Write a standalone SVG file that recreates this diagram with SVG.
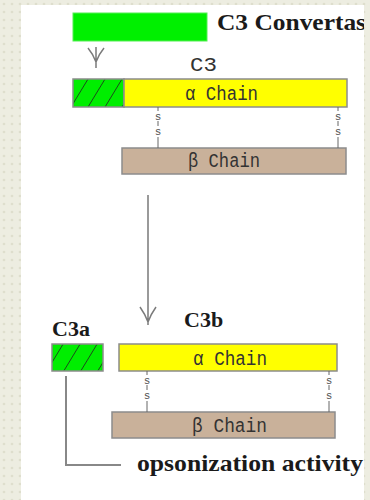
<svg xmlns="http://www.w3.org/2000/svg" width="370" height="500" viewBox="0 0 370 500">
<defs>
<pattern id="bg" width="8" height="8" patternUnits="userSpaceOnUse">
<rect width="8" height="8" fill="#EDEDE1"/>
<circle cx="4" cy="4" r="1.3" fill="#DEDECD"/>
</pattern>
<pattern id="hatch" width="17" height="28" patternUnits="userSpaceOnUse" x="0" y="0">
<rect width="17" height="28" fill="#00EE00"/>
<path d="M-17,28 L0,0 M0,28 L17,0 M17,28 L34,0" stroke="#1a4a1a" stroke-width="1"/>
</pattern>
<clipPath id="white"><rect x="21" y="5" width="343" height="495"/></clipPath>
</defs>
<style>
.bar{stroke:#8c8c8c;stroke-width:1.5}
.lbl{font-family:'Liberation Serif','DejaVu Serif','Times New Roman',serif;font-weight:bold;fill:#1a1a1a}
.mono{font-family:'Liberation Mono','DejaVu Sans Mono',monospace;font-size:20px;fill:#333}
.ss{font-family:'Liberation Mono','DejaVu Sans Mono',monospace;font-size:11px;fill:#555;text-anchor:middle}
.conn{stroke:#7a7a7a;fill:none;stroke-width:1.5}
</style>
<rect width="370" height="500" fill="url(#bg)"/>
<rect x="21" y="5" width="343" height="495" fill="#FFFFFF"/>

<g id="c3-convertase">
<rect x="73" y="13" width="134" height="28" fill="#00F000" stroke="#55ee55" stroke-width="1"/>
<text class="lbl" font-family="Liberation Serif, serif" x="217" y="30" font-size="24" textLength="149" lengthAdjust="spacingAndGlyphs" clip-path="url(#white)">C3 Convertas</text>
</g>

<g id="c3">
<text class="mono" x="190" y="71" font-size="16" textLength="27" lengthAdjust="spacingAndGlyphs">C3</text>
<rect class="bar" x="73" y="79" width="51" height="28" fill="url(#hatch)"/>
<rect class="bar" x="124" y="79" width="223" height="28" fill="#FFFF00"/>
<text class="mono" x="185" y="100" textLength="73" lengthAdjust="spacingAndGlyphs">α Chain</text>
<rect class="bar" x="122" y="148" width="224" height="26" fill="#C9B19A"/>
<text class="mono" x="188" y="167" textLength="72" lengthAdjust="spacingAndGlyphs">β Chain</text>
</g>

<g id="c3a">
<text class="lbl" font-family="Liberation Serif, serif" x="52" y="336" font-size="22">C3a</text>
<rect class="bar" x="52" y="344" width="51" height="27" fill="url(#hatch)"/>
</g>

<g id="c3b">
<text class="lbl" font-family="Liberation Serif, serif" x="184" y="327" font-size="22">C3b</text>
<rect class="bar" x="119" y="344" width="218" height="27" fill="#FFFF00"/>
<text class="mono" x="193" y="365" textLength="74" lengthAdjust="spacingAndGlyphs">α Chain</text>
<rect class="bar" x="112" y="412" width="223" height="26" fill="#C9B19A"/>
<text class="mono" x="192" y="432" textLength="75" lengthAdjust="spacingAndGlyphs">β Chain</text>
</g>

<g id="opsonization">
<text class="lbl" font-family="Liberation Serif, serif" x="137" y="471" font-size="24" textLength="226" lengthAdjust="spacingAndGlyphs">opsonization activity</text>
</g>

<g id="connectors">
<path class="conn" d="M96,47 V68 M88,48 Q93,54 96,62 M104,48 Q99,54 96,62"/>
<path class="conn" d="M148,195 V325 M140,307 Q145,314 148,322 M156,307 Q151,314 148,322"/>
<path d="M66,376 V465 H121" stroke="#888" stroke-width="2" fill="none"/>
<g id="disulfides" stroke="#666" stroke-width="1">
<path d="M158,107 V111 M158,121 V126 M158,137 V148"/>
<path d="M338,107 V111 M338,121 V126 M338,137 V148"/>
<path d="M147,371 V375 M147,385 V390 M147,401 V412"/>
<path d="M329,371 V375 M329,385 V390 M329,401 V412"/>
</g>
<g class="ss">
<text x="158" y="120">s</text><text x="158" y="135">s</text>
<text x="338" y="120">s</text><text x="338" y="135">s</text>
<text x="147" y="384">s</text><text x="147" y="399">s</text>
<text x="329" y="384">s</text><text x="329" y="399">s</text>
</g>
</g>
</svg>
